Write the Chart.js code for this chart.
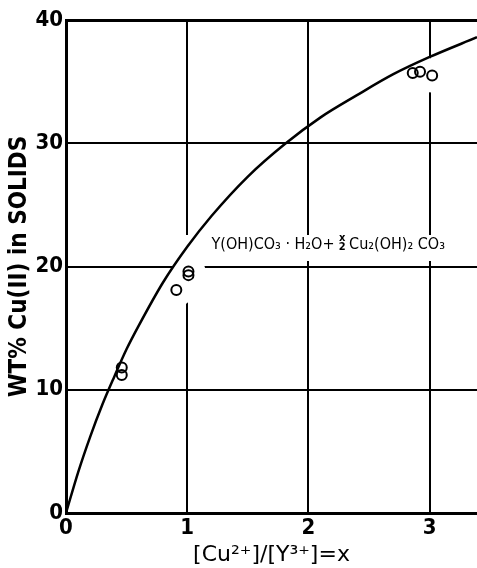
<!DOCTYPE html>
<html>
<head>
<meta charset="utf-8">
<script src="https://cdn.jsdelivr.net/npm/chart.js@4/dist/chart.umd.min.js"></script>
<style>
  html, body { margin: 0; padding: 0; background: #fff; overflow: hidden; }
  #wrap { width: 477px; height: 568px; position: relative; }
  canvas { display: block; }
</style>
</head>
<body>
<div id="wrap"><canvas id="chart"></canvas></div>
<script>
// calculated composition curve
const curveX = [0, 0.1, 0.2, 0.3, 0.4, 0.5, 0.6, 0.8, 1.0, 1.2, 1.5, 1.8, 2.1, 2.4, 2.7, 3.0, 3.39];
const curveY = [0, 3.3, 6.2, 8.8, 11.1, 13.3, 15.2, 18.7, 21.6, 24.1, 27.3, 29.9, 32.1, 33.9, 35.6, 37.0, 38.6];

// measured solids (open circles)
const ptsX = [0.46, 0.46, 0.91, 1.01, 1.01, 2.86, 2.92, 3.02];
const ptsY = [11.8, 11.2, 18.1, 19.6, 19.3, 35.7, 35.8, 35.5];

const xTicks = [0, 1, 2, 3];
const yTicks = [0, 10, 20, 30, 40];

const FONT = 'DejaVu Sans Condensed';

const curve = curveX.map((x, i) => ({ x: x, y: curveY[i] }));
const pts = ptsX.map((x, i) => ({ x: x, y: ptsY[i] }));

// white box behind the formula label (erases grid like the drawing)
const noteBox = {
  id: 'noteBox',
  beforeDatasetsDraw(chart) {
    const ctx = chart.ctx;
    ctx.save();
    ctx.fillStyle = '#fff';
    ctx.fillRect(180, 235, 290, 26);
    ctx.restore();
  },
  afterDatasetsDraw(chart) {
    const ctx = chart.ctx;
    const sx = chart.scales.x, sy = chart.scales.y;
    let x = sx.getPixelForValue(1.2);
    const y = sy.getPixelForValue(21.4);
    ctx.save();
    ctx.fillStyle = '#000';
    ctx.textBaseline = 'alphabetic';
    ctx.font = '16px "' + FONT + '"';
    const a = 'Y(OH)CO₃ · H₂O+ ';
    ctx.fillText(a, x, y);
    x += ctx.measureText(a).width;
    ctx.font = 'bold 11px "' + FONT + '"';
    ctx.textAlign = 'center';
    ctx.fillText('x', x + 3, y - 8);
    ctx.fillText('2', x + 3, y + 1);
    ctx.textAlign = 'left';
    ctx.font = '16px "' + FONT + '"';
    ctx.fillText('Cu₂(OH)₂ CO₃', x + 10, y);
    ctx.restore();
  }
};

new Chart(document.getElementById('chart'), {
  type: 'scatter',
  data: {
    datasets: [
      {
        // halo: breaks the grid lines around the circle clusters
        data: pts,
        order: 3,
        pointRadius: c => (c.raw && c.raw.y > 15 ? 17 : 0),
        pointBorderWidth: 0,
        pointBackgroundColor: '#fff',
        showLine: false
      },
      {
        data: curve,
        order: 2,
        showLine: true,
        borderColor: '#000',
        borderWidth: 2.5,
        pointRadius: 0,
        cubicInterpolationMode: 'monotone'
      },
      {
        data: pts,
        order: 1,
        pointRadius: 5,
        pointBorderWidth: 2,
        pointBorderColor: '#000',
        pointBackgroundColor: 'rgba(0,0,0,0)'
      }
    ]
  },
  options: {
    responsive: true,
    maintainAspectRatio: false,
    animation: false,
    events: [],
    layout: { autoPadding: false, padding: { top: 20, right: 0, bottom: 0, left: 0 } },
    plugins: {
      legend: { display: false },
      tooltip: { enabled: false }
    },
    scales: {
      x: {
        type: 'linear',
        min: 0,
        max: 3.39,
        afterBuildTicks: s => { s.ticks = xTicks.map(v => ({ value: v })); },
        afterFit: s => { s.height = 55; s.paddingLeft = 0; s.paddingRight = 0; },
        grid: { color: '#000', lineWidth: 2, drawTicks: false },
        border: { color: '#000', width: 3 },
        ticks: { color: '#000', font: { family: FONT, size: 22, weight: 'bold' }, padding: 2 },
        title: {
          display: true,
          text: '[Cu²⁺]/[Y³⁺]=x',
          color: '#000',
          font: { family: 'DejaVu Sans', size: 22 },
          padding: { top: 0, bottom: 0 }
        }
      },
      y: {
        type: 'linear',
        min: 0,
        max: 40,
        afterBuildTicks: s => { s.ticks = yTicks.map(v => ({ value: v })); },
        afterFit: s => { s.width = 66; },
        grid: {
          color: '#000',
          lineWidth: c => (c.tick && c.tick.value === 40 ? 3 : 2),
          drawTicks: false
        },
        border: { color: '#000', width: 3 },
        ticks: { color: '#000', font: { family: FONT, size: 22, weight: 'bold' }, padding: 3 },
        title: {
          display: true,
          text: 'WT% Cu(II) in SOLIDS',
          color: '#000',
          font: { family: FONT, size: 24, weight: 'bold' },
          padding: { top: 5, bottom: 0 }
        }
      }
    }
  },
  plugins: [noteBox]
});
</script>
</body>
</html>
